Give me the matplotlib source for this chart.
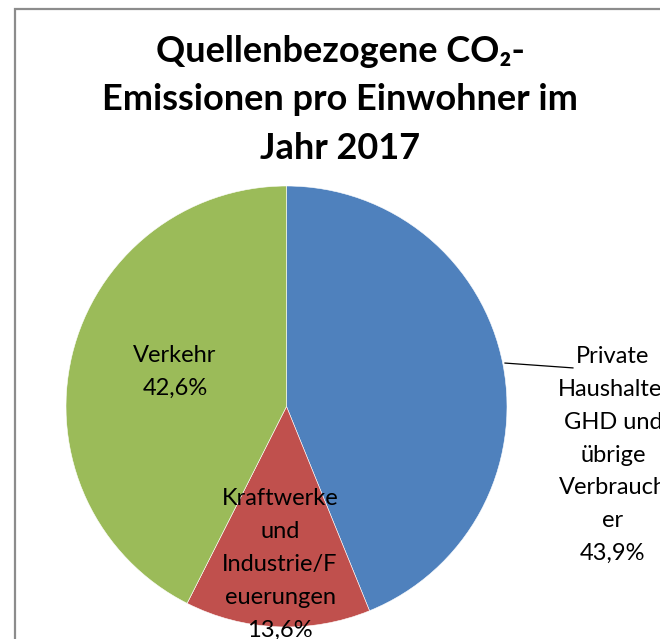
import matplotlib
matplotlib.use("Agg")
import matplotlib.pyplot as plt
from matplotlib.patches import Rectangle

plt.rcParams['font.family'] = ['Lato', 'DejaVu Sans']

# data
sectors = ['Private\nHaushalte,\nGHD und\nübrige\nVerbrauch\ner',
           'Kraftwerke\nund\nIndustrie/F\neuerungen',
           'Verkehr']
shares = [43.9, 13.6, 42.6]
pct_labels = ['43,9%', '13,6%', '42,6%']
colors = ['#4F81BD', '#C0504D', '#9BBB59']

title = 'Quellenbezogene CO₂-\nEmissionen pro Einwohner im\nJahr 2017'

W, H = 660, 639
fig = plt.figure(figsize=(W / 100, H / 100), dpi=100)

# chart frame (Excel chart area), cut at right/bottom
fig.patches.append(Rectangle((15 / W, -0.05), 1.0, (H - 9) / H + 0.05,
                             transform=fig.transFigure, fill=False,
                             edgecolor='#8c8c8c', linewidth=1.6))

# pie centre (286.5, 406.5) px, radius 220.5 px
cx, cy, r = 286.5, 406.5, 220.5
ax = fig.add_axes([(cx - r) / W, (H - cy - r) / H, 2 * r / W, 2 * r / H])
ax.pie(shares, colors=colors, startangle=90, counterclock=False,
       radius=1, wedgeprops=dict(edgecolor='white', linewidth=0.4))
ax.set_xlim(-1, 1)
ax.set_ylim(-1, 1)
ax.axis('off')

# label positions (relative to pie radius)
label_pos = [(1.48, -0.22), (-0.029, -0.717), (-0.506, 0.156)]
for name, pct, (x, y) in zip(sectors, pct_labels, label_pos):
    ax.text(x, y, name + '\n' + pct, ha='center', va='center',
            fontsize=17, linespacing=1.7, color='black', clip_on=False)

# leader line for the first slice
ax.plot([0.991, 1.299], [0.197, 0.175], color='black', linewidth=0.9,
        clip_on=False)

fig.text(340 / W, 1 - 100 / H, title, ha='center', va='center',
         fontsize=26, fontweight='bold', linespacing=1.56)

fig.savefig('out.png', dpi=100)
